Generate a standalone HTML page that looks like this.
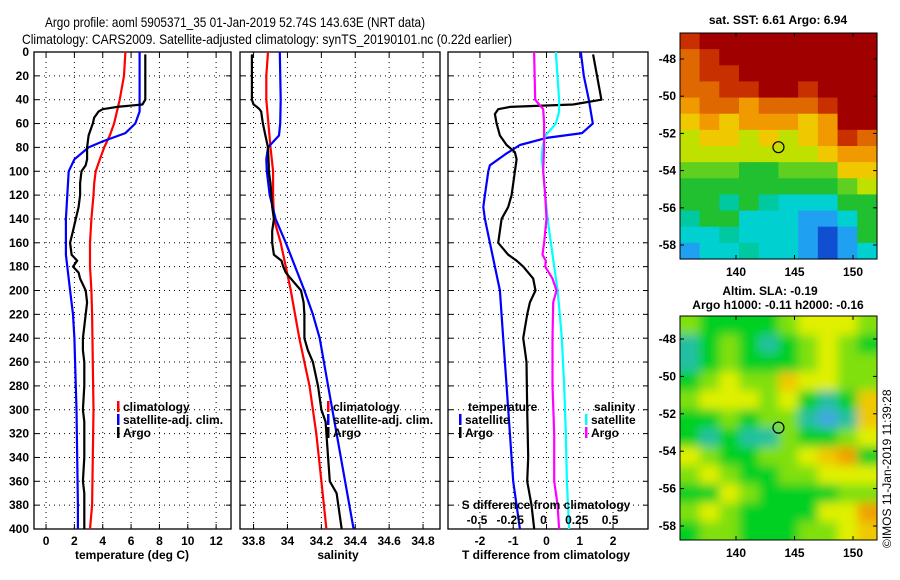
<!DOCTYPE html>
<html><head><meta charset="utf-8"><style>
html,body{margin:0;padding:0;background:#fff;}
svg{display:block;font-family:"Liberation Sans",sans-serif;}
.t{font-size:12px;font-weight:bold;fill:#000;}
</style></head><body>
<svg id="c" width="900" height="580" viewBox="0 0 900 580">
<defs><filter id="bl" x="-0.2" y="-0.2" width="1.4" height="1.4"><feGaussianBlur stdDeviation="5"/></filter>
<clipPath id="cp2"><rect x="680" y="316" width="197" height="224"/></clipPath></defs>
<text x="235" y="27" font-size="14" text-anchor="middle" textLength="380" lengthAdjust="spacingAndGlyphs">Argo profile: aoml 5905371_35 01-Jan-2019 52.74S 143.63E (NRT data)</text>
<text x="267" y="44" font-size="14" text-anchor="middle" textLength="490" lengthAdjust="spacingAndGlyphs">Climatology: CARS2009. Satellite-adjusted climatology: synTS_20190101.nc (0.22d earlier)</text>
</svg>
<script>
// ---------- data ----------
const depthClimT=[0,20,40,50,60,70,80,90,100,110,120,140,160,180,200,220,260,300,340,380,400];
const climT=[5.6,5.5,5.2,5.0,4.8,4.5,4.1,3.8,3.5,3.4,3.35,3.2,3.1,3.1,3.2,3.25,3.3,3.35,3.3,3.25,3.1];
const depthSatT=[0,20,40,50,60,68,75,80,90,100,120,140,160,170,180,200,220,240,260,300,340,380,400];
const satT=[6.6,6.6,6.6,6.6,6.3,5.6,4.0,3.0,2.0,1.6,1.5,1.4,1.4,1.4,1.5,1.7,1.9,2.0,2.05,2.15,2.2,2.25,2.25];
const depthArgo=[2,40,44,46,48,50,55,60,70,80,90,95,100,110,120,130,140,150,160,170,175,180,185,190,200,210,220,240,250,260,280,300,310,320,340,360,370,390,400];
const argoT=[7.0,7.0,6.8,5.0,4.0,3.7,3.4,3.3,3.0,2.9,2.9,2.8,2.5,2.4,2.4,2.3,2.1,1.9,1.7,1.8,2.2,1.9,2.3,2.4,2.8,2.9,2.8,2.6,2.6,2.7,2.7,2.6,2.7,2.7,2.7,2.6,2.7,2.7,2.7];
const depthClimS=[0,20,40,80,100,120,140,160,180,200,240,280,320,360,400];
const climS=[33.885,33.875,33.875,33.9,33.915,33.915,33.92,33.96,33.99,34.02,34.07,34.13,34.17,34.2,34.23];
const depthSatS=[0,40,60,70,80,90,100,120,140,160,180,200,220,240,280,320,360,400];
const satS=[33.955,33.96,33.957,33.95,33.885,33.875,33.878,33.895,33.93,33.99,34.045,34.1,34.15,34.19,34.24,34.29,34.34,34.39];
const argoS=[33.79,33.79,33.8,33.82,33.835,33.845,33.85,33.855,33.87,33.885,33.888,33.89,33.89,33.9,33.905,33.91,33.92,33.91,33.91,33.92,33.965,33.975,33.99,34.02,34.08,34.095,34.1,34.1,34.12,34.15,34.18,34.2,34.225,34.23,34.24,34.25,34.29,34.31,34.32];
const depthTd=[0,20,40,60,68,72,78,85,95,100,120,130,140,160,180,200,240,280,320,360,400];
const satTdiff=[1.03,1.12,1.27,1.39,1.07,0,-0.8,-1.2,-1.7,-1.75,-1.85,-1.9,-1.85,-1.7,-1.55,-1.4,-1.3,-1.2,-1.1,-1.0,-0.8];
const depthArgoTd=[2,40,44,46,48,52,60,70,78,84,90,100,120,130,140,150,160,170,175,180,190,200,210,220,240,250,260,300,340,360,380,400];
const argoTdiff=[1.4,1.65,0.8,-1.1,-1.45,-1.55,-1.5,-1.4,-1.2,-0.95,-0.9,-0.95,-1.05,-1.15,-1.35,-1.4,-1.45,-1.15,-0.9,-0.7,-0.4,-0.33,-0.5,-0.58,-0.7,-0.65,-0.6,-0.58,-0.55,-0.58,-0.45,-0.37];
const depthSd=[0,40,50,60,65,70,80,90,100,120,140,160,180,200,220,240,280,320,360,400];
const satSdiff=[0.07,0.095,0.095,0.07,0.033,-0.01,-0.03,-0.035,-0.025,-0.01,0.008,0.033,0.058,0.083,0.1,0.115,0.133,0.145,0.153,0.17];
const depthArgoSd=[0,40,44,48,60,80,100,120,140,160,170,175,180,190,200,210,240,280,320,360,380,400];
const argoSdiff=[-0.093,-0.085,-0.055,-0.025,-0.018,-0.018,-0.025,-0.01,0,-0.018,-0.03,-0.005,-0.01,0.045,0.075,0.05,0.045,0.045,0.058,0.058,0.083,0.095];
const depthTicks=[0,20,40,60,80,100,120,140,160,180,200,220,240,260,280,300,320,340,360,380,400];
const tTicks=[0,2,4,6,8,10,12];
const sTicks=[33.8,34,34.2,34.4,34.6,34.8];
const sTickLabels=["33.8","34","34.2","34.4","34.6","34.8"];
const dTTicks=[-2,-1,0,1,2];
const dSTicks=[-0.5,-0.25,0,0.25,0.5];
const lonTicks=[140,145,150];
const latTicks=[-48,-50,-52,-54,-56,-58];
const sstGrid=[
[9,10,10,10,10,10,10,10,10,10],
[8,9,10,10,10,10,10,10,10,10],
[8,9,9,10,10,10,10,10,10,10],
[8,8,9,9,10,10,9,10,10,10],
[7,8,8,7,8,8,8,9,10,10],
[6,7,6,7,7,7,6,7,10,10],
[5,6,6,5,6,5,6,7,9,8],
[5,5,5,5,5,5,5,6,7,7],
[4,4,4,3,3,4,4,4,6,6],
[3,3,3,3,3,3,3,3,4,5],
[3,3,2.5,3,2.5,2,2,2,3,3],
[2.5,3,3,2,2,2,1.5,1.5,2,3],
[2,2,2.5,2,2,2,1.5,1,1.5,3],
[1.5,2,2,2.5,2,2,1.5,1,1.5,2]];
const slaGrid=[
[4,3,3,3,3,4,5,5,5,4],
[2,3,4,3,2,3,4,5,4,3],
[2,3,4,3,3,3,4,5,4,4],
[3,4,5,4,4,6,5,5,4,4],
[4,5,5,5,4,5,3,2,3,6],
[3,3,4,3,4,4,2,1.5,2,6],
[3,2,3,2,2,4,3,3,4,5],
[5,4,3,3,4,4,5,6,7,3],
[4,5,4,3,3,4,4,5,5,5],
[3,3,5,4,3,3,3,3,4,4],
[4,5,4,3,3,3,3,5,5,7],
[3,4,4,3,3,3,4,4,5,6]];

// ---------- helpers ----------
const svg=document.getElementById('c');
const NS='http://www.w3.org/2000/svg';
function mk(tag,attrs,parent){const e=document.createElementNS(NS,tag);for(const k in attrs)e.setAttribute(k,attrs[k]);(parent||svg).appendChild(e);return e;}
const Y0=52,Y1=529;
function yD(d){return Y0+(d/400)*(Y1-Y0);}
function lin(a0,a1,p0,p1){return v=>p0+(v-a0)/(a1-a0)*(p1-p0);}

function panel(name,x0,x1,xs,ticks,labels){
  const g=mk('g',{});
  
  
  ticks.forEach(v=>{const x=xs(v);mk('line',{x1:x,y1:Y0,x2:x,y2:Y1,stroke:'#000','stroke-width':1,'stroke-dasharray':'1,4'},g);
    mk('line',{x1:x,y1:Y1,x2:x,y2:Y1-5,stroke:'#000'},g);mk('line',{x1:x,y1:Y0,x2:x,y2:Y0+5,stroke:'#000'},g);});
  depthTicks.forEach(d=>{const y=yD(d);mk('line',{x1:x0,y1:y,x2:x1,y2:y,stroke:'#000','stroke-dasharray':'1,4'},g);
    mk('line',{x1:x0,y1:y,x2:x0+5,y2:y,stroke:'#000'},g);mk('line',{x1:x1,y1:y,x2:x1-5,y2:y,stroke:'#000'},g);});
  mk('rect',{x:x0,y:Y0,width:x1-x0,height:Y1-Y0,fill:'none',stroke:'#000','stroke-width':1.3},g);
  if(labels) ticks.forEach((v,i)=>{const t=mk('text',{x:xs(v),y:Y1+16,'text-anchor':'middle',class:'t'},g);t.textContent=labels[i];
    });
  return g;
}
function line(name,xs,ys,vals,deps,color){
  const p=vals.map((v,i)=>xs(v).toFixed(1)+','+yD(deps[i]).toFixed(1)).join(' ');
  const e=mk('polyline',{points:p,fill:'none',stroke:color,'stroke-width':2.2,'stroke-linejoin':'round'});
  
  
}
function txt(x,y,s,name,extra){const t=mk('text',Object.assign({x:x,y:y,class:'t'},extra||{}));t.textContent=s;
  return t;}
function legend(x,y,color,label,name){const r=mk('rect',{x:x,y:y-10,width:2.5,height:11,fill:color});
  txt(x+6,y,label,name);}

// ---------- panel 1 temperature ----------
const xT=lin(-0.85,13.05,34,231);
panel('temperature-panel',34,231,xT,tTicks,tTicks.map(String));
depthTicks.forEach(d=>{txt(29,yD(d)+4,String(d),'y-tick-label',{'text-anchor':'end'});});
line('climatology-temperature-line',xT,null,climT,depthClimT,'#ff0000');
line('satellite-temperature-line',xT,null,satT,depthSatT,'#0000ff');
line('argo-temperature-line',xT,null,argoT,depthArgo,'#000');
legend(117,411,'#ff0000','climatology','legend-climatology');
legend(117,424,'#0000ff','satellite-adj. clim.','legend-satellite');
legend(117,437,'#000','Argo','legend-argo');
txt(132,559,'temperature (deg C)','x-axis-title-temperature',{'text-anchor':'middle'});

// ---------- panel 2 salinity ----------
const xS=lin(33.72,34.9,240,440);
panel('salinity-panel',240,440,xS,sTicks,sTickLabels);
line('climatology-salinity-line',xS,null,climS,depthClimS,'#ff0000');
line('satellite-salinity-line',xS,null,satS,depthSatS,'#0000ff');
line('argo-salinity-line',xS,null,argoS,depthArgo,'#000');
legend(327,411,'#ff0000','climatology','legend-climatology-s');
legend(327,424,'#0000ff','satellite-adj. clim.','legend-satellite-s');
legend(327,437,'#000','Argo','legend-argo-s');
txt(338,559,'salinity','x-axis-title-salinity',{'text-anchor':'middle'});

// ---------- panel 3 differences ----------
const xTd=lin(-2.96,3.05,448,648);
const xSd=v=>xTd(v*4);
panel('difference-panel',448,648,xTd,dTTicks,dTTicks.map(String));
line('satellite-temperature-diff-line',xTd,null,satTdiff,depthTd,'#0000ff');
line('argo-temperature-diff-line',xTd,null,argoTdiff,depthArgoTd,'#000');
line('satellite-salinity-diff-line',xSd,null,satSdiff,depthSd,'#00ffff');
line('argo-salinity-diff-line',xSd,null,argoSdiff,depthArgoSd,'#ff00ff');
txt(468,411,'temperature','legend-temperature-heading');
legend(459,424,'#0000ff','satellite','legend-t-satellite');
legend(459,437,'#000','Argo','legend-t-argo');
txt(594,411,'salinity','legend-salinity-heading');
legend(585,424,'#00ffff','satellite','legend-s-satellite');
legend(585,437,'#ff00ff','Argo','legend-s-argo');
txt(546,509,'S difference from climatology','s-diff-axis-title',{'text-anchor':'middle'});
dSTicks.forEach(v=>{txt(xSd(v)-3,524,String(v),'s-diff-tick-label',{'text-anchor':'middle'});});
txt(546,559,'T difference from climatology','x-axis-title-difference',{'text-anchor':'middle'});

// ---------- maps ----------
const sstCols={10:'#a00000',9:'#c83000',8:'#e06800',7:'#f09a00',6:'#f0c800',5:'#c0e000',4:'#60d020',3:'#20c030',2.5:'#00c8a0',2:'#00d0d0',1.5:'#20a0f0',1:'#1050d0'};
const slaCols={1.5:'#40a8e0',2:'#20c0a0',3:'#00d020',4:'#80e010',5:'#e0f000',6:'#f0c800',7:'#f0a000'};
const lonX=lin(140,150,736,853);
function map(name,grid,cols,top,bot,lat48,lat58,blur){
  const latY=lin(-48,-58,lat48,lat58);
  const g=mk('g',{});
  
  
  const inner=mk('g',blur?{'clip-path':'url(#cp2)'}:{},g);
  const tgt=blur?mk('g',{filter:'url(#bl)'},inner):inner;
  const nr=grid.length,nc=grid[0].length,lon0=135.2,lon1=152.05;
  const latTop=-48+(lat48-top)/(lat58-lat48)*10, latBot=-48-(bot-lat48)/(lat58-lat48)*10;
  const pad=blur?20:0;
  grid.forEach((row,r)=>row.forEach((v,c)=>{
    const x=lonX(lon0+(lon1-lon0)*c/nc),x2=lonX(lon0+(lon1-lon0)*(c+1)/nc);
    const y=latY(latTop-(latTop-latBot)*r/nr),y2=latY(latTop-(latTop-latBot)*(r+1)/nr);
    const cell=mk('rect',{x:(c==0?x-pad:x),y:(r==0?y-pad:y),width:x2-x+0.6+(c==0?pad:0)+(c==nc-1?pad:0),height:y2-y+0.6+(r==0?pad:0)+(r==nr-1?pad:0),fill:cols[v]},tgt);
    
    
  }));
  mk('rect',{x:680,y:top,width:197,height:bot-top,fill:'none',stroke:'#000'},g);
  latTicks.forEach(l=>{const y=latY(l);mk('line',{x1:680,y1:y,x2:684,y2:y,stroke:'#000'},g);mk('line',{x1:877,y1:y,x2:873,y2:y,stroke:'#000'},g);
    txt(676,y+4,String(l),'map-lat-label',{'text-anchor':'end'});});
  lonTicks.forEach(l=>{const x=lonX(l);mk('line',{x1:x,y1:bot,x2:x,y2:bot-4,stroke:'#000'},g);mk('line',{x1:x,y1:top,x2:x,y2:top+4,stroke:'#000'},g);
    txt(x,bot+17,String(l),'map-lon-label',{'text-anchor':'middle'});});
  const m=mk('circle',{cx:lonX(143.63),cy:latY(-52.74),r:5.5,fill:'none',stroke:'#000','stroke-width':1.2},g);
  
  
}
map('sst-map',sstGrid,sstCols,33,259,59,245,false);
txt(778,24,'sat. SST: 6.61 Argo: 6.94','sst-map-title',{'text-anchor':'middle'});
map('sla-map',slaGrid,slaCols,316,540,339,526,true);
txt(770,295,'Altim. SLA: -0.19','sla-map-title',{'text-anchor':'middle'});
txt(778,309,'Argo h1000: -0.11 h2000: -0.16','sla-map-subtitle',{'text-anchor':'middle'});
const cr=txt(0,0,'©IMOS 11-Jan-2019 11:39:28','copyright-stamp',{transform:'translate(891,548) rotate(-90)'});
cr.setAttribute('class','');cr.setAttribute('font-size','12');
</script>
</body></html>
